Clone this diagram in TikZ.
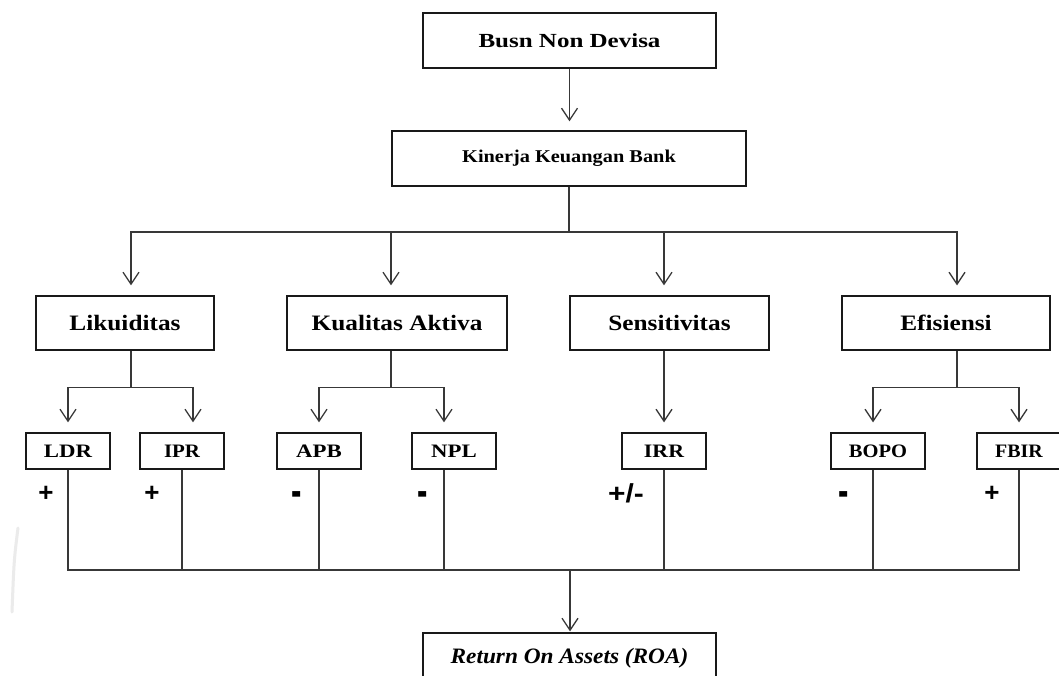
\documentclass[tikz,border=0pt]{standalone}
\usepackage{fontspec}
\setmainfont{Liberation Serif}
\newfontfamily\signfont{Liberation Sans}
\usetikzlibrary{arrows.meta}
\newcommand{\hstretch}[2]{\scalebox{#1}[1]{#2}}
\newcommand{\thickdash}{\scalebox{1.2}[1.8]{-}}
\begin{document}
\begin{tikzpicture}[x=1pt,y=-1pt,
  box/.style={draw=black!90, line width=1.3pt, inner sep=0pt, font=\bfseries},
  topbox/.style={box, font=\bfseries\fontsize{20}{24}\selectfont},
  catbox/.style={box, minimum width=#1, minimum height=54pt, font=\bfseries\fontsize{22}{26}\selectfont},
  subbox/.style={box, minimum width=#1, minimum height=36pt, font=\bfseries\fontsize{19}{22}\selectfont},
  ln/.style={draw=black!78, line width=1.3pt},
  arr/.style={ln, -{Straight Barb[length=12pt,width=16pt,line width=1.3pt]}, shorten >=10pt},
  sign/.style={font=\signfont\bfseries\fontsize{26}{26}\selectfont, inner sep=0pt}]
\useasboundingbox[fill=white] (0,0) rectangle (1059,675);

% faint artifact line
\draw[black!8, line width=3pt, line cap=round] (18,528) .. controls (14,560) .. (12,612);

% top boxes
\node[topbox, minimum width=293pt, minimum height=55pt] (busn) at (569.5,40.5) {\hstretch{1.25}{Busn Non Devisa}};
\node[box, minimum width=354pt, minimum height=55pt, font=\bfseries\fontsize{18}{22}\selectfont] (kin) at (569,158.5) {\hstretch{1.13}{Kinerja Keuangan Bank}};

% categories
\node[catbox=178pt] (lik) at (125,323) {\hstretch{1.15}{Likuiditas}};
\node[catbox=220pt] (kual) at (397,323) {\hstretch{1.15}{Kualitas Aktiva}};
\node[catbox=199pt] (sens) at (669.5,323) {\hstretch{1.15}{Sensitivitas}};
\node[catbox=208pt] (efi) at (946,323) {\hstretch{1.15}{Efisiensi}};

% ratios
\node[subbox=84pt] (ldr) at (68,451) {\hstretch{1.2}{LDR}};
\node[subbox=84pt] (ipr) at (182,451) {\hstretch{1.1}{IPR}};
\node[subbox=84pt] (apb) at (319,451) {\hstretch{1.2}{APB}};
\node[subbox=84pt] (npl) at (454,451) {\hstretch{1.2}{NPL}};
\node[subbox=84pt] (irr) at (664,451) {\hstretch{1.15}{IRR}};
\node[subbox=94pt] (bopo) at (878,451) {\hstretch{1.08}{BOPO}};
\node[subbox=84pt] (fbir) at (1019,451) {\hstretch{1.05}{FBIR}};

% ROA
\node[box, minimum width=293pt, minimum height=50pt, font=\bfseries\itshape\fontsize{22}{26}\selectfont] (roa) at (569.5,658) {\hstretch{1.06}{Return On Assets (ROA)}};

% signs
\node[sign] (s1) at (46,494) {+};
\node[sign] (s2) at (152,494) {+};
\node[sign] (s3) at (297,499) {\thickdash};
\node[sign] (s4) at (423,499) {\thickdash};
\node[sign] (s5) at (626,493) {\hstretch{1.15}{+/-}};
\node[sign] (s6) at (844,499) {\thickdash};
\node[sign] (s7) at (992,494) {+};

% connectors
\draw[arr, shorten >=9pt] (busn.south) -- (busn.south |- kin.north);
\coordinate (kb) at (569,232);
\draw[arr] (kin.south) -- (kb) -| ([xshift=6pt]lik.north);
\draw[arr] (kin.south) -- (kb) -| ([xshift=-6pt]kual.north);
\draw[arr] (kin.south) -- (kb) -| ([xshift=-5.5pt]sens.north);
\draw[arr] (kin.south) -- (kb) -| ([xshift=11pt]efi.north);

\coordinate (lb) at ([xshift=6pt]lik.south);
\draw[arr] (lb) -- ++(0,37) -| (ldr.north);
\draw[arr] (lb) -- ++(0,37) -| ([xshift=11pt]ipr.north);
\coordinate (kq) at ([xshift=-6pt]kual.south);
\draw[arr] (kq) -- ++(0,37) -| (apb.north);
\draw[arr] (kq) -- ++(0,37) -| ([xshift=-10pt]npl.north);
\draw[arr] ([xshift=-5.5pt]sens.south) -- (irr.north);
\coordinate (eb) at ([xshift=11pt]efi.south);
\draw[arr] (eb) -- ++(0,37) -| ([xshift=-5pt]bopo.north);
\draw[arr] (eb) -- ++(0,37) -| (fbir.north);

\coordinate (bus) at (570,570);
\draw[ln] (ldr.south) -- (ldr.south |- bus) -- (fbir.south |- bus) -- (fbir.south);
\draw[ln] (ipr.south) -- (ipr.south |- bus);
\draw[ln] (apb.south) -- (apb.south |- bus);
\draw[ln] ([xshift=-10pt]npl.south) -- ([xshift=-10pt]npl.south |- bus);
\draw[ln] (irr.south) -- (irr.south |- bus);
\draw[ln] ([xshift=-5pt]bopo.south) -- ([xshift=-5pt]bopo.south |- bus);
\draw[arr, shorten >=1pt] (bus) -- (bus |- roa.north);
\end{tikzpicture}
\end{document}
